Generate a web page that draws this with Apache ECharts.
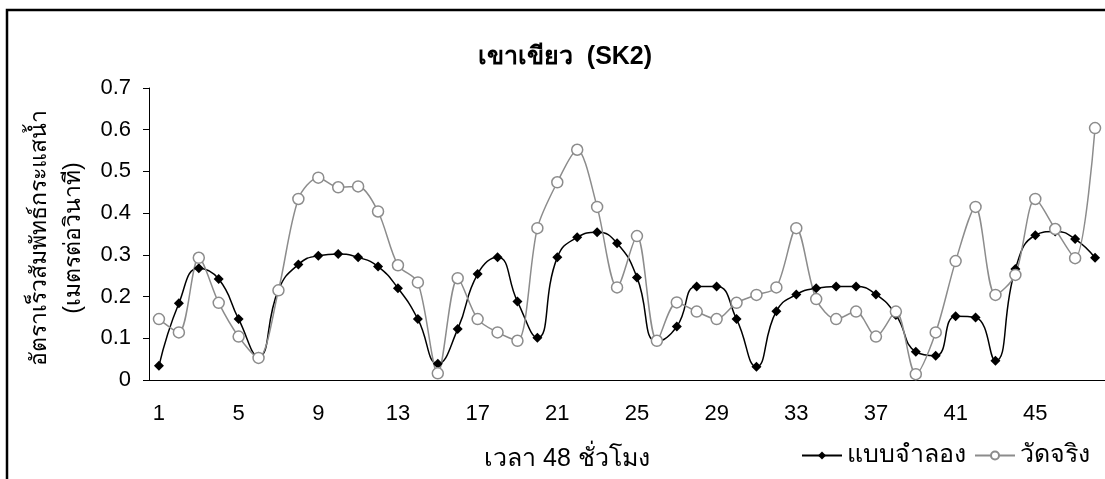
<!DOCTYPE html>
<html>
<head>
<meta charset="utf-8">
<script src="https://cdn.jsdelivr.net/npm/echarts@6/dist/echarts.min.js"></script>
<style>
  html, body { margin: 0; padding: 0; background: #fff; }
  #sk2 { width: 1105px; height: 479px; }
</style>
</head>
<body>
<div id="sk2"></div>
<script>
// ชั่วโมงที่ 1 - 48
var hours = [];
for (var h = 1; h <= 48; h++) hours.push(String(h));

// แบบจำลอง (model)
var modelVals = [0.034, 0.184, 0.268, 0.242, 0.146, 0.056, 0.216, 0.277, 0.298, 0.302,
                 0.294, 0.272, 0.22, 0.146, 0.039, 0.122, 0.254, 0.294, 0.188, 0.101,
                 0.294, 0.342, 0.354, 0.328, 0.246, 0.092, 0.128, 0.224, 0.224, 0.146,
                 0.032, 0.165, 0.205, 0.22, 0.224, 0.224, 0.205, 0.156, 0.068, 0.058,
                 0.153, 0.15, 0.046, 0.266, 0.347, 0.356, 0.338, 0.293];

// วัดจริง (measured)
var measuredVals = [0.146, 0.114, 0.293, 0.185, 0.104, 0.053, 0.215, 0.434, 0.485, 0.462,
                    0.464, 0.404, 0.275, 0.234, 0.016, 0.244, 0.146, 0.114, 0.094, 0.364,
                    0.474, 0.552, 0.415, 0.222, 0.345, 0.094, 0.186, 0.164, 0.146, 0.185,
                    0.204, 0.222, 0.364, 0.194, 0.146, 0.164, 0.104, 0.164, 0.014, 0.114,
                    0.285, 0.415, 0.204, 0.252, 0.434, 0.362, 0.292, 0.604];

var yTicks = { min: 0, max: 0.7, step: 0.1 };

(function () {
    var myChart = echarts.init(document.getElementById('sk2'));
    var font = 'Arial, "Liberation Sans", sans-serif';
    var option = {
        backgroundColor: '#fff',
        animation: false,
        title: {
            text: 'เขาเขียว  (SK2)',
            left: 560,
            top: 40,
            textAlign: 'center',
            textStyle: { fontFamily: font, fontSize: 25, fontWeight: 'bold', color: '#000' }
        },
        legend: {
            right: 10,
            bottom: 6,
            itemWidth: 40,
            itemHeight: 10,
            itemGap: 8,
            textStyle: { fontFamily: font, fontSize: 25, color: '#000' },
            data: ['แบบจำลอง', 'วัดจริง']
        },
        grid: { left: 149, right: 0, top: 88, bottom: 99 },
        xAxis: {
            type: 'category',
            data: hours,
            boundaryGap: true,
            axisLine: { lineStyle: { color: '#000', width: 1 } },
            axisTick: { interval: 0, length: 6, lineStyle: { color: '#000' } },
            axisLabel: { interval: 3, margin: 23, fontFamily: font, fontSize: 22, color: '#000' }
        },
        yAxis: {
            type: 'value',
            min: yTicks.min,
            max: yTicks.max,
            interval: yTicks.step,
            splitLine: { show: false },
            axisLine: { show: true, lineStyle: { color: '#000', width: 1 } },
            axisTick: { show: true, length: 6, lineStyle: { color: '#000' } },
            axisLabel: { margin: 18, fontFamily: font, fontSize: 22, color: '#000' }
        },
        graphic: [
            {
                type: 'rect',
                shape: { x: 7, y: 10, width: 1200, height: 600 },
                style: { fill: 'none', stroke: '#000', lineWidth: 2.5 },
                silent: true
            },
            {
                type: 'text',
                x: 40, y: 238,
                rotation: Math.PI / 2,
                style: {
                    text: 'อัตราเร็วสัมพัทธ์กระแสน้ำ',
                    fontFamily: font, fontSize: 23, fill: '#000',
                    align: 'center', verticalAlign: 'middle'
                }
            },
            {
                type: 'text',
                x: 74, y: 238,
                rotation: Math.PI / 2,
                style: {
                    text: '(เมตรต่อวินาที)',
                    fontFamily: font, fontSize: 23, fill: '#000',
                    align: 'center', verticalAlign: 'middle'
                }
            },
            {
                type: 'text',
                x: 567, y: 459,
                style: {
                    text: 'เวลา 48 ชั่วโมง',
                    fontFamily: font, fontSize: 25, fill: '#000',
                    align: 'center', verticalAlign: 'middle'
                }
            }
        ],
        series: [
            {
                name: 'แบบจำลอง',
                type: 'line',
                data: modelVals,
                smooth: 0.5,
                symbol: 'diamond',
                symbolSize: 10,
                lineStyle: { color: '#000', width: 1.5 },
                itemStyle: { color: '#000' }
            },
            {
                name: 'วัดจริง',
                type: 'line',
                data: measuredVals,
                smooth: 0.3,
                symbol: 'circle',
                symbolSize: 11,
                lineStyle: { color: '#8c8c8c', width: 1.5 },
                itemStyle: { color: '#fff', borderColor: '#8c8c8c', borderWidth: 1.5 }
            }
        ]
    };
    myChart.setOption(option);
})();
</script>
</body>
</html>
